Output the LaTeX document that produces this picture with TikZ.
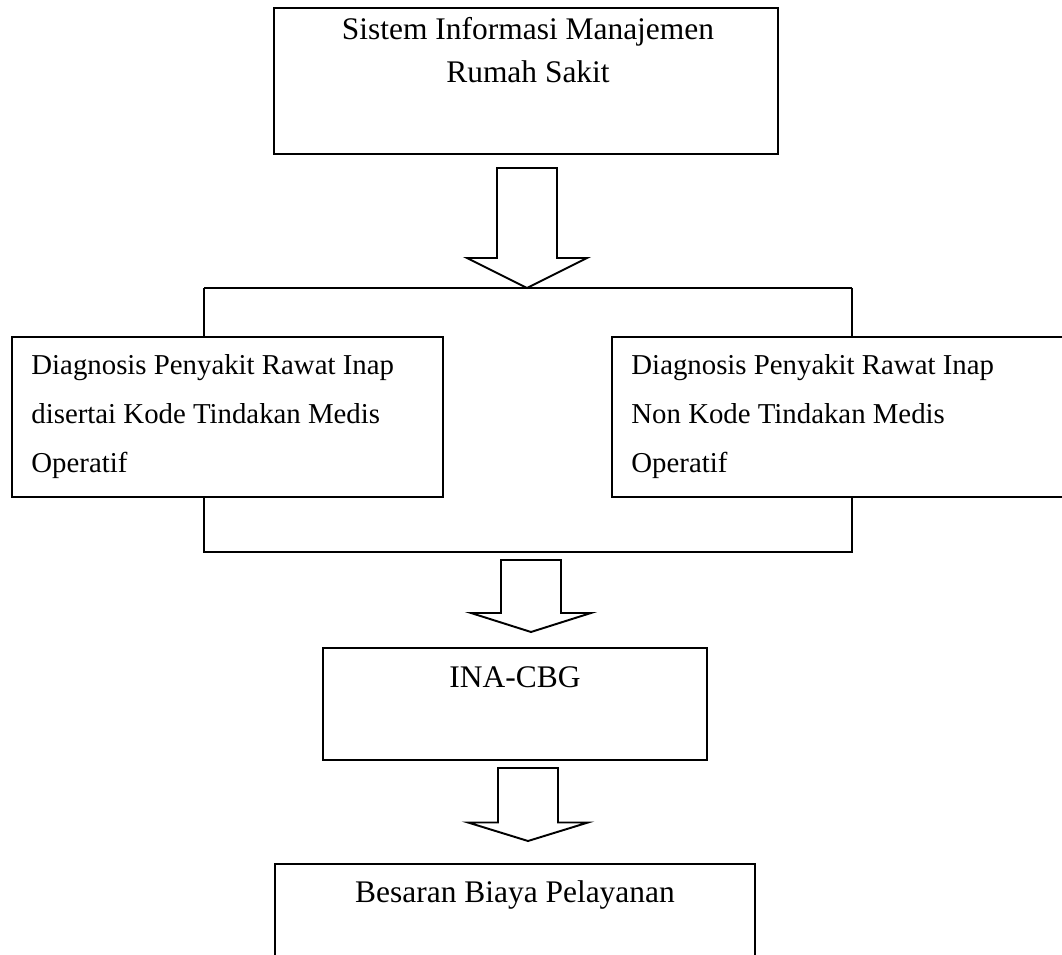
\documentclass[tikz,border=0pt]{standalone}
\usepackage{fontspec}
\setmainfont{Liberation Serif}
\usetikzlibrary{positioning,calc}

\tikzset{
	box/.style={draw, line width=1.1pt, inner sep=0pt},
	txt/.style={inner sep=0pt, font=\fontsize{17.9}{24.4}\selectfont},
	diagtxt/.style={inner sep=0pt, align=left, anchor=north west, font=\fontsize{16.4}{27.8}\selectfont},
	link/.style={line width=1.1pt},
}

% block arrow: [head length]{top}{tip}
\newcommand{\fatarrow}[3][0.6cm]{%
	\draw[link, line join=miter] let \p1=(#2), \p2=(#3) in
		(\x1-0.6cm,\y1) -- (\x1+0.6cm,\y1) -- (\x1+0.6cm,\y2+#1) -- (\x1+1.2cm,\y2+#1)
		-- (\x2,\y2) -- (\x1-1.2cm,\y2+#1) -- (\x1-0.6cm,\y2+#1) -- cycle;}

\begin{document}
\begin{tikzpicture}[x=0.02cm, y=-0.02cm]

	\clip (0,0) rectangle (1062,955);

	%% SIMRS
	\node[box, minimum width=10.08cm, minimum height=2.92cm] (sim) at (526,81) {};
	\node[txt, align=center, anchor=north] (sim_txt) at ([shift={(2,10)}]sim.north) {Sistem Informasi Manajemen\\Rumah Sakit};

	\coordinate (arr1_top) at (527,168);
	\coordinate (fork_l) at (204,288);
	\coordinate (fork_r) at (852,288);
	\fatarrow{arr1_top}{arr1_top |- fork_l}
	\draw[link] (fork_l) -- (fork_r);

	%% Diagnosis
	\node[box, minimum width=8.62cm, minimum height=3.2cm] (diag_op) at (227.5,417) {};
	\node[diagtxt] (diag_op_txt) at ([shift={(20,18)}]diag_op.north west) {Diagnosis Penyakit Rawat Inap\\disertai Kode Tindakan Medis\\Operatif};

	\node[box, minimum width=9.36cm, minimum height=3.2cm] (diag_non) at (846,417) {};
	\node[diagtxt] (diag_non_txt) at ([shift={(20,18)}]diag_non.north west) {Diagnosis Penyakit Rawat Inap\\Non Kode Tindakan Medis\\Operatif};

	\draw[link] (fork_l) -- (fork_l |- diag_op.north);
	\draw[link] (fork_r) -- (fork_r |- diag_non.north);

	\coordinate (join_l) at (204,552);
	\coordinate (join_r) at (852,552);
	\draw[link] (join_l |- diag_op.south) -- (join_l) -- (join_r) -- (join_r |- diag_non.south);

	%% INA-CBG
	\coordinate (arr2_top) at (531,560);
	\coordinate (arr2_tip) at (531,632);
	\fatarrow[0.38cm]{arr2_top}{arr2_tip}

	\node[box, minimum width=7.68cm, minimum height=2.24cm] (ina) at (515,704) {};
	\node[txt, anchor=base] (ina_txt) at ([shift={(0,40)}]ina.north) {INA-CBG};

	%% Biaya
	\coordinate (arr3_top) at (528,768);
	\coordinate (arr3_tip) at (528,841);
	\fatarrow[0.37cm]{arr3_top}{arr3_tip}

	\node[box, minimum width=9.6cm, minimum height=2.72cm] (cost) at (515,932) {};
	\node[txt, anchor=base] (cost_txt) at ([shift={(0,39)}]cost.north) {Besaran Biaya Pelayanan};

\end{tikzpicture}
\end{document}
